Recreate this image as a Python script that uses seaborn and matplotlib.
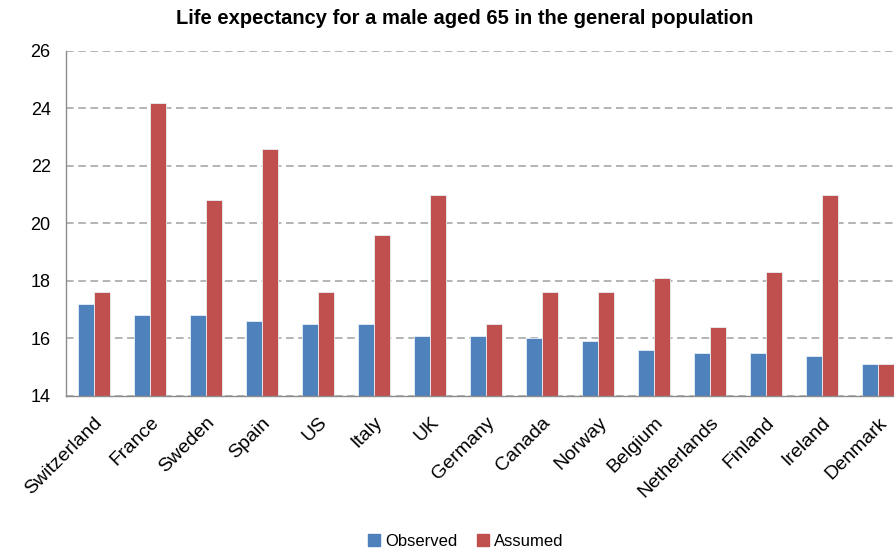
import matplotlib
matplotlib.use("Agg")
import matplotlib.pyplot as plt
import seaborn as sns
import pandas as pd

countries = ["Switzerland", "France", "Sweden", "Spain", "US", "Italy", "UK",
             "Germany", "Canada", "Norway", "Belgium", "Netherlands", "Finland",
             "Ireland", "Denmark"]
observed = [17.2, 16.8, 16.8, 16.6, 16.5, 16.5, 16.1, 16.1, 16.0, 15.9, 15.6,
            15.5, 15.5, 15.4, 15.1]
assumed = [17.6, 24.2, 20.8, 22.6, 17.6, 19.6, 21.0, 16.5, 17.6, 17.6, 18.1,
           16.4, 18.3, 21.0, 15.1]
series = ["Observed", "Assumed"]
colors = ["#4F81BD", "#C0504D"]
y_ticks = [14, 16, 18, 20, 22, 24, 26]

df = pd.DataFrame({
    "country": countries * 2,
    "value": observed + assumed,
    "series": [series[0]] * len(countries) + [series[1]] * len(countries),
})

sns.set_style("white")
plt.rcParams["font.family"] = ["Liberation Sans", "DejaVu Sans"]
plt.rcParams["text.color"] = "black"

fig = plt.figure(figsize=(8.94, 5.5), dpi=100)
ax = fig.add_axes([66 / 894, 1 - 396 / 550, (906 - 66) / 894, (396 - 51) / 550])

sns.barplot(data=df, x="country", y="value", hue="series", order=countries,
            hue_order=series, palette=colors, width=0.57, gap=0,
            edgecolor="#E8EEF6", linewidth=0.6, saturation=1, ax=ax,
            legend=False)

ax.set_ylim(14, 26)
ax.set_yticks(y_ticks)
ax.set_xlim(-0.5, len(countries) - 0.5)
ax.set_xlabel("")
ax.set_ylabel("")
ax.yaxis.grid(True, linestyle=(0, (5, 3)), color="#A0A0A0", linewidth=1.1)
ax.set_axisbelow(True)
for side in ["top", "right"]:
    ax.spines[side].set_visible(False)
for side in ["left", "bottom"]:
    ax.spines[side].set_color("#8C8C8C")
    ax.spines[side].set_linewidth(1.0)
ax.tick_params(axis="y", length=0, labelsize=13, labelcolor="black", pad=11)
ax.tick_params(axis="x", length=0, labelsize=14, labelcolor="black", pad=13)
plt.setp(ax.get_xticklabels(), rotation=45, ha="right", va="top",
         rotation_mode="anchor")

fig.text(465 / 894, 1 - 19 / 550, "Life expectancy for a male aged 65 in the general population",
         ha="center", va="center", fontsize=14.5, fontweight="bold", color="black")

handles = [plt.Rectangle((0, 0), 1, 1, color=c) for c in colors]
fig.legend(handles, series, loc="center", bbox_to_anchor=(466 / 894, 1 - 541 / 550),
           ncol=2, frameon=False, fontsize=12, handlelength=0.7, handleheight=0.7,
           handletextpad=0.3, columnspacing=1.2, labelcolor="black")

fig.savefig("out.png", dpi=100)
